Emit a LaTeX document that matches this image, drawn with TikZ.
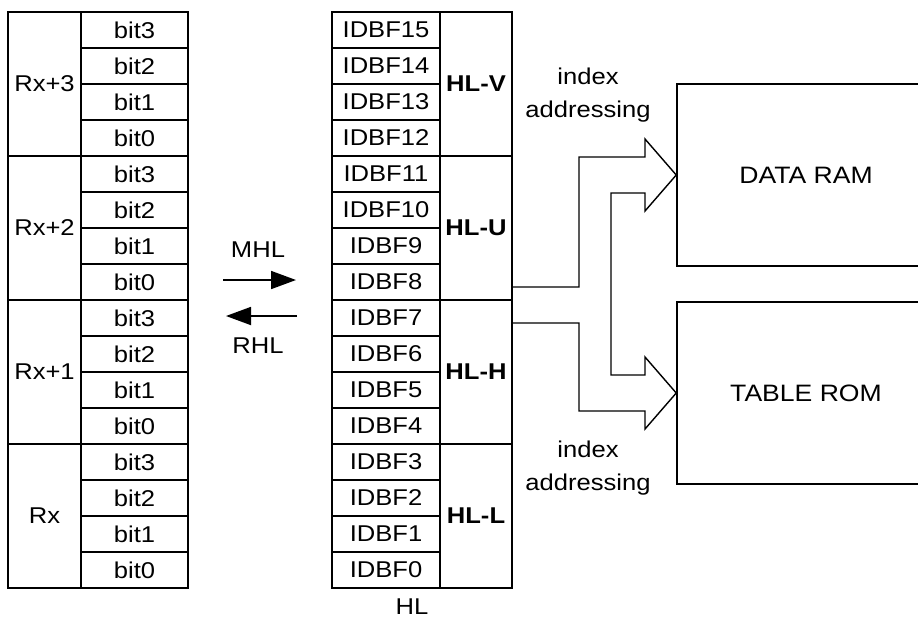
\documentclass[tikz,border=0pt]{standalone}
\usepackage{fontspec}
\setmainfont{Liberation Sans}[FakeStretch=1.12]
\usetikzlibrary{arrows.meta}

\tikzset{
    cell/.style={rectangle, draw, line width=0.9pt, inner sep=0pt, minimum height=0.72cm},
    membox/.style={rectangle, draw, line width=0.9pt, minimum width=5.16cm, minimum height=3.64cm,
        font=\fontsize{13.5}{19}\selectfont},
    plain/.style={inner sep=0pt, align=center},
    blockarrow/.style={line width=0.8pt, line join=miter},
    busarrow/.style={line width=1pt, -{Triangle[length=0.5cm, width=0.36cm]}}
}

\begin{document}
\begin{tikzpicture}[x=0.02cm, y=-0.02cm, font=\fontsize{13}{19}\selectfont]
    \useasboundingbox (0,0) rectangle (918,623);
    \clip (0,0) rectangle (918,623);

    % Draw register bits and buffer bits
    \foreach \i in {0,...,15} {
        \pgfmathtruncatemacro{\b}{3-mod(\i,4)}
        \pgfmathtruncatemacro{\f}{15-\i}
        \node[cell, minimum width=2.14cm] (bit\i) at (134.5,30+36*\i) {bit\b};
        \node[cell, minimum width=2.16cm] (idbf\f) at (386,30+36*\i) {IDBF\f};
    }

    % Draw register groups
    \node[cell, minimum width=1.46cm, minimum height=2.88cm] (rx3) at (44.5,84) {Rx+3};
    \node[cell, minimum width=1.46cm, minimum height=2.88cm] (rx2) at (44.5,228) {Rx+2};
    \node[cell, minimum width=1.46cm, minimum height=2.88cm] (rx1) at (44.5,372) {Rx+1};
    \node[cell, minimum width=1.46cm, minimum height=2.88cm] (rx0) at (44.5,516) {Rx};

    % Draw HL groups
    \node[cell, minimum width=1.44cm, minimum height=2.88cm, font=\fontsize{13}{19}\selectfont\bfseries] (hlV) at (476,84) {HL-V};
    \node[cell, minimum width=1.44cm, minimum height=2.88cm, font=\fontsize{13}{19}\selectfont\bfseries] (hlU) at (476,228) {HL-U};
    \node[cell, minimum width=1.44cm, minimum height=2.88cm, font=\fontsize{13}{19}\selectfont\bfseries] (hlH) at (476,372) {HL-H};
    \node[cell, minimum width=1.44cm, minimum height=2.88cm, font=\fontsize{13}{19}\selectfont\bfseries] (hlL) at (476,516) {HL-L};
    \node[plain] (hl) at (412,607) {HL};

    % Draw memories
    \node[membox] (ram) at (806,175) {DATA RAM};
    \node[membox] (rom) at (806,393) {TABLE ROM};

    % Draw transfer arrows
    \coordinate (mhlA) at (223,280);
    \coordinate (mhlB) at (296,280);
    \coordinate (rhlA) at (297,316);
    \coordinate (rhlB) at (226,316);
    \draw[busarrow] (mhlA) -- (mhlB);
    \draw[busarrow] (rhlA) -- (rhlB);
    \node[plain] (mhl) at (258,250) {MHL};
    \node[plain] (rhl) at (258,346) {RHL};

    % Draw index addressing arrows
    \draw[blockarrow] (512,287) -- (579,287) -- (579,157) -- (645,157) -- (645,139)
        -- (ram.west) -- (645,211) -- (645,193) -- (611,193) -- (611,375)
        -- (645,375) -- (645,357) -- (rom.west) -- (645,429) -- (645,411)
        -- (579,411) -- (579,323) -- (512,323);

    % Labels
    \node[plain] (idxA) at (588,95) {index\\addressing};
    \node[plain] (idxB) at (588,468) {index\\addressing};
\end{tikzpicture}
\end{document}
